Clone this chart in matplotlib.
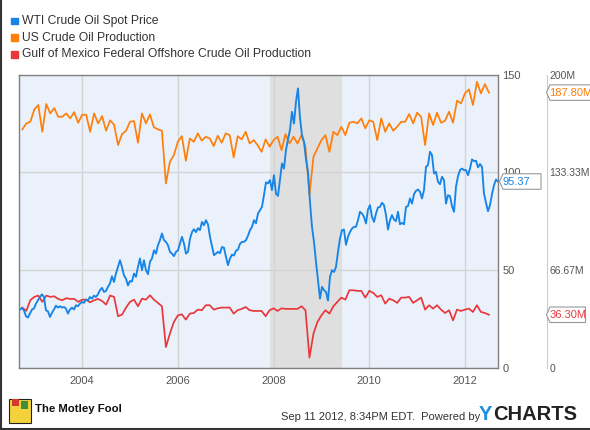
import numpy as np
import matplotlib.pyplot as plt
from matplotlib.patches import Polygon, Rectangle

plt.rcParams['font.family'] = ['Liberation Sans', 'DejaVu Sans']

# US crude oil production, millions of barrels per month (Sep 2002 - Jun 2012)
us_prod = [162.7, 166.8, 167.9, 176.3, 179.3, 161.1, 180.0, 173.6, 177.2, 171.3,
           171.3, 173.6, 170.2, 174.5, 167.2, 172.7, 172.7, 161.1, 173.6, 166.8,
           171.8, 161.8, 168.9, 165.9, 152.0, 159.5, 161.8, 167.9, 168.4, 153.6,
           173.6, 166.8, 172.9, 164.1, 162.7, 161.8, 125.8, 140.6, 145.2, 154.3,
           158.1, 141.3, 156.5, 154.3, 160.0, 155.0, 157.7, 156.5, 151.3, 158.4,
           153.6, 160.0, 158.8, 143.6, 158.1, 155.9, 161.1, 153.1, 155.4, 152.0,
           147.4, 155.9, 150.9, 155.4, 157.7, 148.6, 159.5, 153.1, 157.7, 153.1,
           158.8, 150.9, 117.9, 144.0, 149.7, 155.4, 158.8, 147.4, 161.1, 158.8,
           164.5, 158.8, 167.2, 167.9, 166.8, 170.2, 163.4, 168.9, 167.9, 155.4,
           170.2, 161.1, 166.8, 161.8, 164.5, 167.9, 167.9, 173.2, 166.8, 174.1,
           171.3, 152.0, 173.6, 165.7, 174.1, 167.2, 168.6, 174.8, 167.2, 182.3,
           180.4, 187.3, 190.0, 179.3, 195.2, 187.3, 193.6, 187.8]

# Gulf of Mexico federal offshore production, millions of barrels per month
gulf_prod = [41.2, 38.9, 46.2, 48.5, 49.4, 45.1, 49.4, 48.5, 48.9, 47.1,
             46.2, 47.6, 47.1, 47.1, 45.1, 46.6, 46.6, 44.8, 46.2, 47.1,
             45.7, 43.2, 49.4, 48.5, 35.3, 36.4, 41.2, 45.1, 46.6, 42.1,
             47.3, 46.6, 49.6, 46.6, 44.4, 42.1, 14.3, 23.4, 31.4, 35.9,
             36.6, 33.0, 37.1, 37.5, 39.8, 39.4, 42.8, 42.8, 39.8, 40.7,
             41.2, 41.2, 41.2, 37.1, 39.4, 40.3, 41.6, 39.4, 38.9, 38.9,
             38.9, 35.3, 39.4, 40.7, 38.9, 40.7, 40.3, 40.3, 40.3, 40.3,
             42.1, 39.4, 7.1, 23.4, 31.4, 35.9, 39.4, 37.1, 42.1, 45.1,
             48.0, 46.6, 53.0, 53.0, 52.6, 52.6, 48.0, 52.6, 51.2, 48.5,
             49.6, 43.9, 47.3, 46.2, 44.4, 48.0, 48.0, 48.5, 44.4, 46.2,
             48.0, 39.8, 42.8, 40.5, 42.8, 39.8, 37.5, 39.4, 32.5, 39.8,
             38.9, 39.8, 40.5, 38.2, 42.8, 38.2, 37.5, 36.3]

# WTI crude oil spot price, USD per barrel, about twice a month (Sep 2002 - Sep 2012)
wti_price = [29.9, 30.7, 29.5, 26.5, 25.8, 27.8, 29.9, 30.4, 32.9, 34.6,
             36.3, 37.7, 36.3, 29.5, 29.0, 26.1, 28.2, 29.9, 31.9, 30.9,
             31.6, 30.9, 31.2, 30.4, 27.8, 29.9, 30.9, 29.9, 32.1, 31.6,
             32.9, 33.8, 33.3, 35.0, 34.6, 36.3, 35.5, 37.0, 36.3, 37.7,
             39.8, 41.0, 38.9, 39.4, 41.5, 43.2, 46.9, 44.0, 48.3, 51.7,
             55.1, 51.7, 47.4, 45.7, 42.2, 44.5, 44.2, 48.3, 46.6, 51.7,
             56.0, 50.0, 55.1, 50.0, 48.0, 54.3, 56.0, 60.2, 58.5, 62.8,
             65.4, 68.8, 65.4, 64.5, 62.8, 59.4, 58.5, 57.2, 59.4, 60.2,
             63.7, 67.1, 63.7, 58.5, 59.4, 66.0, 69.5, 71.0, 69.5, 71.5,
             70.5, 74.7, 73.0, 75.6, 73.5, 67.1, 62.5, 57.7, 58.5, 59.4,
             58.7, 61.9, 61.5, 56.8, 52.6, 56.0, 58.0, 57.5, 60.0, 60.5,
             63.5, 64.5, 64.5, 65.4, 67.6, 70.5, 72.2, 75.6, 74.0, 79.0,
             80.7, 82.4, 88.4, 95.0, 94.4, 96.1, 91.0, 98.6, 89.2, 88.0,
             96.1, 104.6, 102.0, 111.4, 117.0, 121.7, 131.0, 125.0, 136.2, 143.0,
             128.0, 119.1, 115.7, 106.7, 100.3, 85.0, 72.2, 64.5, 54.3, 44.9,
             35.5, 41.5, 39.8, 38.9, 34.5, 46.6, 50.0, 49.1, 51.7, 59.4,
             66.2, 70.5, 70.8, 63.0, 67.1, 69.6, 71.3, 72.2, 72.2, 75.6,
             79.9, 79.0, 77.3, 73.9, 81.1, 83.3, 77.3, 74.7, 79.0, 82.1,
             82.4, 84.5, 83.3, 78.2, 70.8, 75.6, 78.2, 75.9, 75.1, 79.9,
             73.5, 74.2, 73.5, 82.4, 82.8, 86.7, 84.1, 88.9, 90.6, 91.3,
             90.1, 86.7, 91.0, 102.9, 103.8, 110.6, 108.9, 99.5, 100.3, 95.2,
             94.0, 97.8, 96.1, 84.1, 88.4, 87.9, 82.8, 79.9, 92.7, 98.1,
             101.2, 102.0, 101.2, 101.2, 98.6, 102.0, 106.7, 105.8, 106.0, 102.6,
             104.3, 102.9, 89.2, 84.5, 80.2, 83.3, 88.9, 93.5, 96.4, 95.37]

month_year = 2002.75 + np.arange(len(us_prod)) / 12
wti_year = np.linspace(2002.70, 2012.69, len(wti_price))

recession = (2007.92, 2009.42)
year_ticks = [2004, 2006, 2008, 2010, 2012]
price_ticks = [0, 50, 100, 150]
prod_ticks = [0, 200 / 3, 400 / 3, 200]
prod_labels = ['0', '66.67M', '133.33M', '200M']

names = ['WTI Crude Oil Spot Price', 'US Crude Oil Production',
         'Gulf of Mexico Federal Offshore Crude Oil Production']
colors = ['#1785e6', '#ff7f0a', '#e8383c']

W, H = 590, 430
fig = plt.figure(figsize=(W / 100, H / 100), dpi=100)
ax = fig.add_axes([19 / W, 1 - 368 / H, 479 / W, 293.3 / H])
ax.set_facecolor('#eaf1fb')
ax.axvspan(*recession, color='#dfdfdf', lw=0, zorder=0.5)
ax.set_xlim(2002.68, 2012.69)
ax.set_ylim(0, 150)
ax.set_xticks(year_ticks)
ax.set_xticklabels([str(y) for y in year_ticks])
ax.set_yticks(price_ticks)
ax.grid(True, color='#d4d4d4', lw=1)
ax.set_axisbelow(True)
for s in ax.spines.values():
    s.set_color('#808080')
    s.set_linewidth(1)

ax2 = ax.twinx()
ax.yaxis.tick_right()
ax.tick_params(axis='both', length=0, labelsize=8, labelcolor='#555555')
ax.tick_params(axis='x', pad=6)
ax.tick_params(axis='y', pad=3)
ax2.set_ylim(0, 200)
ax2.set_yticks(prod_ticks)
ax2.set_yticklabels(prod_labels)
ax2.tick_params(axis='y', length=0, pad=2, labelsize=7.5, labelcolor='#555555')
for k, s in ax2.spines.items():
    s.set_visible(k == 'right')
ax2.spines['right'].set_position(('outward', 35))
ax2.spines['right'].set_color('#cccccc')

ax2.plot(month_year, us_prod, color=colors[1], lw=1.25)
ax2.plot(month_year, gulf_prod, color=colors[2], lw=1.25)
ax2.plot(wti_year, wti_price, color=colors[0], lw=1.35, transform=ax.transData)


def tag(axis, value, text, color, x0, w):
    # value tag with a pointed left side, x in pixels, y from the data value
    yb = axis.transData.transform((0, value))[1]
    h = 15.5
    pts = [(x0, yb), (x0 + 3.5, yb - h / 2), (x0 + w, yb - h / 2),
           (x0 + w, yb + h / 2), (x0 + 3.5, yb + h / 2)]
    pts = [(px / W, py / H) for px, py in pts]
    fig.patches.append(Polygon(pts, closed=True, transform=fig.transFigure,
                               facecolor='white', edgecolor='#999999', lw=0.8, zorder=5))
    fig.text((x0 + 3) / W, yb / H, text, color=color, fontsize=8,
             va='center', ha='left', zorder=6)


tag(ax, wti_price[-1], f'{wti_price[-1]:.2f}', colors[0], 499.5, 41.5)
tag(ax2, us_prod[-1], f'{us_prod[-1]:.2f}M', colors[1], 546.5, 46)
tag(ax2, gulf_prod[-1], f'{gulf_prod[-1]:.2f}M', colors[2], 546.5, 39)

# legend
for i, (name, c) in enumerate(zip(names, colors)):
    yc = 21 + i * 16.7
    fig.patches.append(Rectangle((11 / W, 1 - (yc + 3.3) / H), 6.5 / W, 6.6 / H,
                                 transform=fig.transFigure, color=c))
    fig.text(22 / W, 1 - yc / H, name, fontsize=8.7, color='#333333', va='center')

# frame lines of the image
fig.add_artist(plt.Line2D([0.6 / W, 0.6 / W], [0, 1], color='#333333', lw=1.5,
                          transform=fig.transFigure))
fig.add_artist(plt.Line2D([0, 1], [0.8 / H, 0.8 / H], color='#333333', lw=1.5,
                          transform=fig.transFigure))

# footer
fig.patches.append(Rectangle((9 / W, 1 - 423 / H), 22 / W, 24 / H, transform=fig.transFigure,
                             facecolor='#f4d23c', edgecolor='#222222', lw=0.8))
fig.patches.append(Rectangle((12 / W, 1 - 406 / H), 7 / W, 7 / H, transform=fig.transFigure,
                             facecolor='#d33b2c', lw=0))
fig.patches.append(Rectangle((21 / W, 1 - 409 / H), 7 / W, 8 / H, transform=fig.transFigure,
                             facecolor='#3c8d3c', lw=0))
fig.text(35 / W, 1 - 409 / H, 'The Motley Fool', fontsize=8.2, fontweight='bold',
         color='#111111', va='center')
fig.text(281 / W, 1 - 417 / H, 'Sep 11 2012, 8:34PM EDT.  Powered by', fontsize=8,
         color='#333333', va='center')
fig.text(479 / W, 1 - 415 / H, 'Y', fontsize=14.5, fontweight='bold', color='#1a8fdc',
         va='center')
fig.text(493 / W, 1 - 415 / H, 'CHARTS', fontsize=14.5, fontweight='bold', color='#222222',
         va='center')

fig.savefig('out.png', dpi=100)
